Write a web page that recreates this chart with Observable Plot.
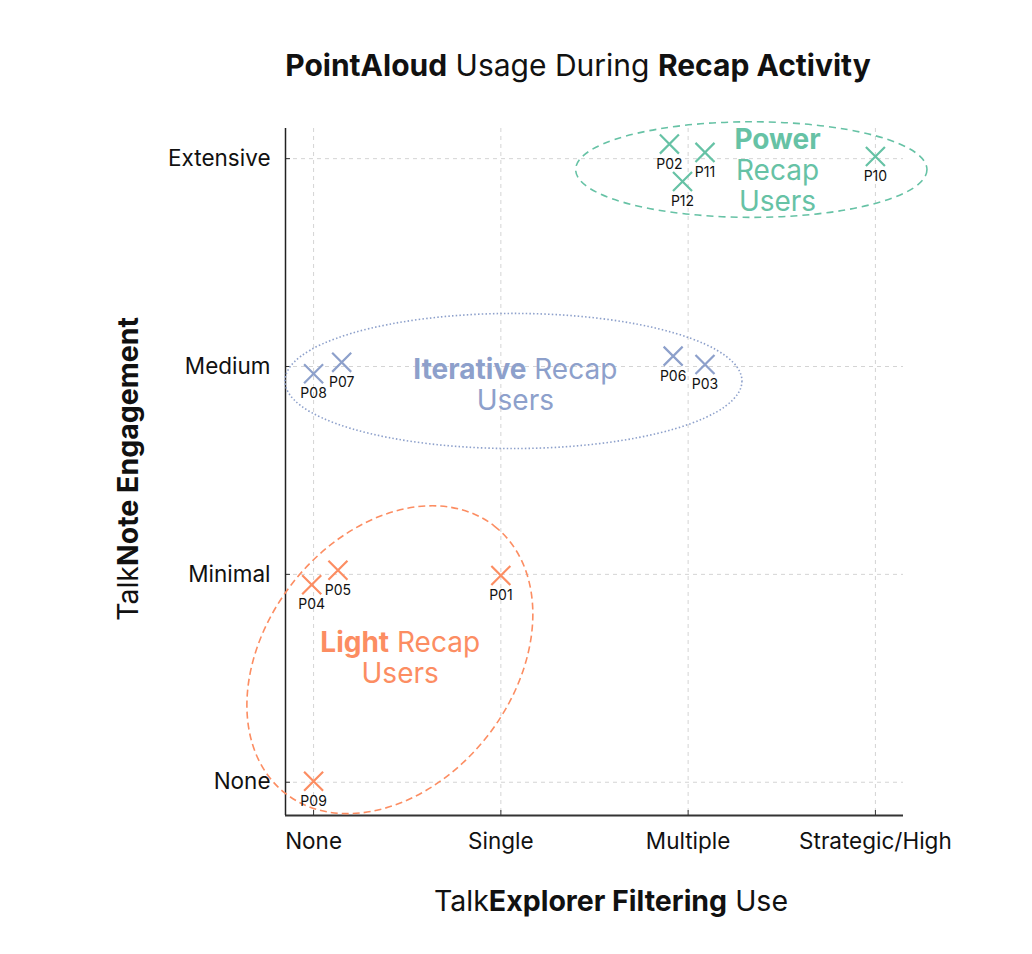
<!DOCTYPE html>
<html>
<head>
<meta charset="utf-8">
<script src="https://cdn.jsdelivr.net/npm/d3@7"></script>
<script src="https://cdn.jsdelivr.net/npm/@observablehq/plot@0.6"></script>
<style>
  body { margin: 0; background: #fff; font-family: Inter, "Noto Sans", sans-serif; }
  #wrap { position: relative; width: 1032px; height: 954px; }
  .t { position: absolute; white-space: nowrap; color: #111; font-weight: 400; }
  .t b { font-weight: 700; }
</style>
</head>
<body>
<div id="wrap">
  <div class="t" style="left:578px;top:65px;transform:translate(-50%,-50%);font-size:30px;"><b>PointAloud</b> Usage During <b>Recap Activity</b></div>
  <div class="t" style="left:611px;top:900px;transform:translate(-50%,-50%);font-size:28.5px;">Talk<b>Explorer Filtering</b> Use</div>
  <div class="t" style="left:127px;top:469px;transform:translate(-50%,-50%) rotate(-90deg);font-size:28.5px;">Talk<b>Note Engagement</b></div>
</div>
<script>
// ---- data ----
const xTickLabels = ["None", "Single", "Multiple", "Strategic/High"];
const yTickLabels = ["None", "Minimal", "Medium", "Extensive"];

const participants = ["P01","P02","P03","P04","P05","P06","P07","P08","P09","P10","P11","P12"];
const explorerUse  = [1.00, 1.90, 2.09, -0.01, 0.13, 1.92, 0.15, 0.00, 0.00, 3.00, 2.09, 1.97];
const noteUse      = [0.995, 3.07, 2.01, 0.95, 1.02, 2.05, 2.02, 1.965, 0.005, 3.01, 3.03, 2.89];
const groupOf      = ["Light","Power","Iterative","Light","Light","Iterative","Iterative","Iterative","Light","Power","Power","Power"];

const groupNames  = ["Power", "Iterative", "Light"];
const groupColors = ["#66c2a5", "#8da0cb", "#fc8d62"];
// ellipse outlines (data units): centre, radii, tilt
const ellCx    = [2.34, 1.07, 0.41];
const ellCy    = [2.945, 1.928, 0.587];
const ellRx    = [0.938, 1.22, 0.906];
const ellRy    = [0.23, 0.325, 0.596];
const ellAngle = [0, 0, 52];
const ellDash  = ["7,5", "1.5,2.2", "7,4"];
// group label anchors and lines
const labelX = [2.48, 1.08, 0.465];
const labelY = [2.945, 1.91, 0.60];
const labelLines = [
  [[["Power", true]], [["Recap", false]], [["Users", false]]],
  [[["Iterative", true], [" Recap", false]], [["Users", false]]],
  [[["Light", true], [" Recap", false]], [["Users", false]]]
];

const points = participants.map((p, i) => ({p, x: explorerUse[i], y: noteUse[i], g: groupOf[i]}));
const xDomain = [-0.15, 3.15];
const yDomain = [-0.16, 3.145];

const ellipses = (index, scales) => {
  const g = d3.create("svg:g");
  groupNames.forEach((name, i) => {
    const cx = scales.x(ellCx[i]), cy = scales.y(ellCy[i]);
    const rx = scales.x(ellCx[i] + ellRx[i]) - cx;
    const ry = cy - scales.y(ellCy[i] + ellRy[i]);
    g.append("ellipse")
      .attr("cx", cx).attr("cy", cy).attr("rx", rx).attr("ry", ry)
      .attr("transform", `rotate(${-ellAngle[i]} ${cx} ${cy})`)
      .attr("fill", "none").attr("stroke", groupColors[i])
      .attr("stroke-width", 1.6).attr("stroke-dasharray", ellDash[i]);
  });
  return g.node();
};

const groupLabels = (index, scales) => {
  const g = d3.create("svg:g");
  const lh = 31;
  groupNames.forEach((name, i) => {
    const x = scales.x(labelX[i]), y = scales.y(labelY[i]);
    const lines = labelLines[i];
    const y0 = y - (lines.length - 1) * lh / 2;
    const t = g.append("text").attr("text-anchor", "middle")
      .attr("font-family", "Inter, sans-serif").attr("font-size", 28)
      .attr("fill", groupColors[i]);
    lines.forEach((segs, j) => {
      segs.forEach((s, k) => {
        const ts = t.append("tspan").text(s[0]).attr("font-weight", s[1] ? 700 : 400)
          .attr("dominant-baseline", "central");
        if (k === 0) ts.attr("x", x).attr("y", y0 + j * lh);
      });
    });
  });
  return g.node();
};

const chart = Plot.plot({
  width: 1032,
  height: 954,
  marginLeft: 285,
  marginRight: 129,
  marginTop: 128,
  marginBottom: 139,
  style: {fontFamily: "Inter, sans-serif", background: "#fff"},
  x: {domain: xDomain},
  y: {domain: yDomain},
  color: {domain: groupNames, range: groupColors},
  marks: [
    Plot.gridX([0, 1, 2, 3], {stroke: "#d4d4d4", strokeOpacity: 1, strokeDasharray: "4,4", strokeWidth: 1}),
    Plot.gridY([0, 1, 2, 3], {stroke: "#d4d4d4", strokeOpacity: 1, strokeDasharray: "4,4", strokeWidth: 1}),
    Plot.axisX([0, 1, 2, 3], {tickFormat: i => xTickLabels[i], tickSize: -5, tickPadding: 23, fontSize: 22.5, color: "#111", label: null, stroke: "#333"}),
    Plot.axisY([0, 1, 2, 3], {tickFormat: i => yTickLabels[i], tickSize: -5, tickPadding: 20, fontSize: 22.5, color: "#111", label: null, stroke: "#333"}),
    Plot.ruleY([yDomain[0]], {stroke: "#333", strokeWidth: 1.8}),
    Plot.ruleX([xDomain[0]], {stroke: "#222", strokeWidth: 1.5}),
    ellipses,
    Plot.dot(points, {x: "x", y: "y", symbol: "times", r: 8.7, stroke: "g", strokeWidth: 2.2}),
    Plot.text(points, {x: "x", y: "y", text: "p", dy: 20, fontSize: 14, fill: "#111"}),
    groupLabels
  ]
});
document.getElementById("wrap").prepend(chart);
chart.style.position = "absolute";
chart.style.left = "0";
chart.style.top = "0";
</script>
</body>
</html>
